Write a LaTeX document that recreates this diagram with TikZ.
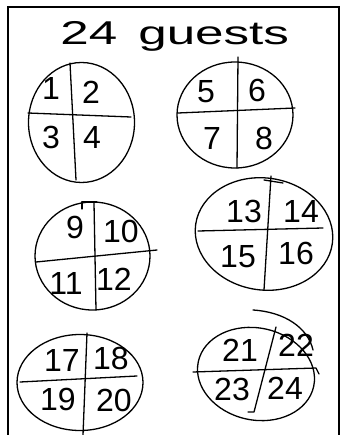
\documentclass[tikz,border=0pt]{standalone}
\usepackage{fontspec}
\setmainfont{Liberation Sans}
\begin{document}
\begin{tikzpicture}[x=1pt,y=-1pt,
  pen/.style={line width=1.3pt, line cap=round, line join=round},
  num/.style={font=\fontsize{32}{32}\selectfont, inner sep=0pt},
  ttl/.style={font=\fontsize{33}{33}\selectfont, inner sep=0pt, xscale=1.55, anchor=base west},
  frm/.style={line width=2pt}]
\useasboundingbox (0,0) rectangle (343,435);
\draw[frm] (8,435) -- (8,7) -- (339,7) -- (339,435);
% title
\node[ttl] (t24) at (60,45) {24};
\node[ttl] (tg) at (138,45) {guests};
% table 1
\draw[pen] (81.5,122.5) ellipse [x radius=53, y radius=60];
\draw[pen] (28,113) -- (131,117);
\draw[pen] (70,63) -- (76,180);
\node[num] (n1) at (51,88) {1};
\node[num] (n2) at (91,92) {2};
\node[num] (n3) at (51,137) {3};
\node[num] (n4) at (92,137) {4};
% table 2
\draw[pen] (235,115) ellipse [x radius=58, y radius=53];
\draw[pen] (178,113) -- (295,108);
\draw[pen] (238,57) -- (237,168);
\node[num] (n5) at (206,92) {5};
\node[num] (n6) at (257,90) {6};
\node[num] (n7) at (212,138) {7};
\node[num] (n8) at (264,138) {8};
% table 3
\draw[pen] (92.5,256) ellipse [x radius=57.5, y radius=54];
\draw[pen] (36,262) -- (157,250);
\draw[pen] (94,203) -- (96,310);
\draw[pen] (82,209) -- (82,202) -- (97,202);
\node[num] (n9) at (75,227) {9};
\node[num] (n10) at (121,231) {10};
\node[num] (n11) at (66,283) {11};
\node[num] (n12) at (114,279) {12};
% table 4
\draw[pen, rotate around={-8:(264,234)}] (264,234) ellipse [x radius=69, y radius=56];
\draw[pen] (198,231) -- (323,228);
\draw[pen] (271,176) -- (264,290);
\draw[pen] (264,180) -- (283,183);
\node[num] (n13) at (244,211) {13};
\node[num] (n14) at (301,211) {14};
\node[num] (n15) at (238,257) {15};
\node[num] (n16) at (296,253) {16};
% table 5
\draw[pen] (80,382.5) ellipse [x radius=63, y radius=48];
\draw[pen] (20,382) -- (137,376);
\draw[pen] (87,333) -- (83,435);
\node[num] (n17) at (62,360) {17};
\node[num] (n18) at (111,358) {18};
\node[num] (n19) at (58,399) {19};
\node[num] (n20) at (114,400) {20};
% table 6
\draw[pen, rotate around={-12:(256,374)}] (256,374) ellipse [x radius=59, y radius=46];
\draw[pen] (253,310) .. controls (285,312) and (308,328) .. (313,350);
\draw[pen] (193,372) -- (316,368) -- (319,374);
\draw[pen] (276,327) -- (254,412) -- (248,412);
\node[num] (n21) at (240,350) {21};
\node[num] (n22) at (296,345) {22};
\node[num] (n23) at (232,389) {23};
\node[num] (n24) at (285,388) {24};
\end{tikzpicture}
\end{document}
